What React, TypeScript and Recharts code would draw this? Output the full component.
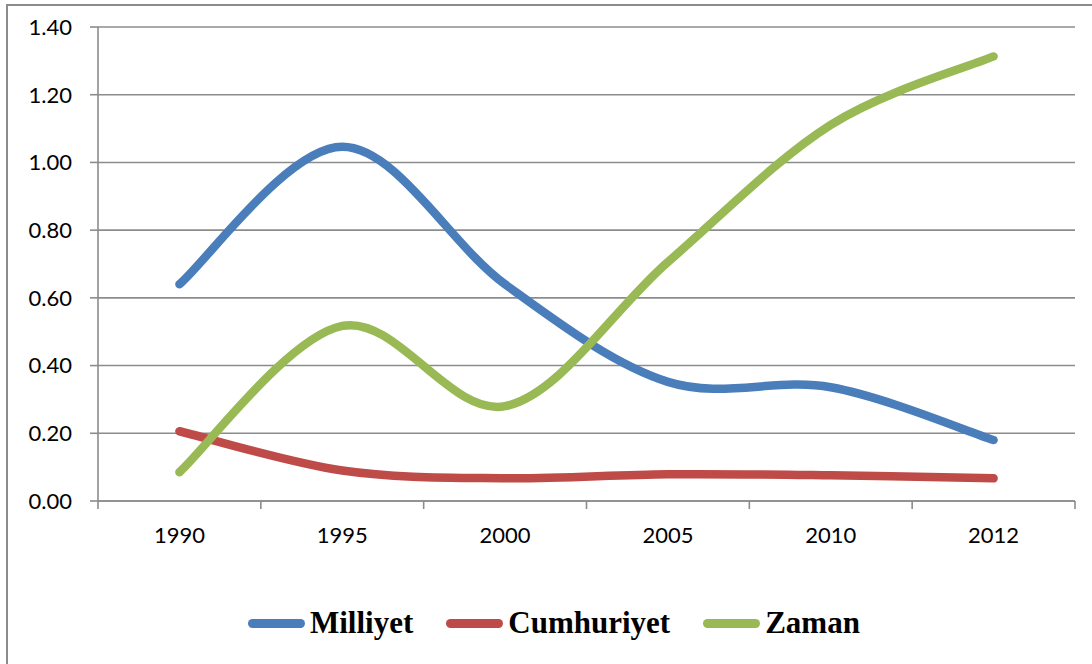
import { CartesianGrid, Line, LineChart, XAxis, YAxis } from "recharts";

const YEARS = ["1990", "1995", "2000", "2005", "2010", "2012"];
const MILLIYET = [0.64, 1.046, 0.64, 0.352, 0.336, 0.18];
const CUMHURIYET = [0.206, 0.09, 0.067, 0.079, 0.076, 0.067];
const ZAMAN = [0.085, 0.517, 0.28, 0.706, 1.111, 1.313];
const Y_TICKS = [0, 0.2, 0.4, 0.6, 0.8, 1.0, 1.2, 1.4];

const SERIES = [
  { key: "milliyet", name: "Milliyet", color: "#4a7ebb" },
  { key: "cumhuriyet", name: "Cumhuriyet", color: "#be4b48" },
  { key: "zaman", name: "Zaman", color: "#98b954" },
];

const data = YEARS.map((year, i) => ({
  year,
  milliyet: MILLIYET[i],
  cumhuriyet: CUMHURIYET[i],
  zaman: ZAMAN[i],
}));

const W = 1092;
const H = 664;
const TOP = 27;
const LEFT = 98;
const RIGHT = 17;
const PLOT_H = 474;
const AXIS_Y = TOP + PLOT_H;
const BAND = (W - LEFT - RIGHT) / YEARS.length;
const GRAY = "#8c8c8c";
const TICK_FONT = "Lato, 'Open Sans', sans-serif";

/** Excel-style smoothed line (Catmull-Rom as cubic beziers). */
function excelSmooth(context: any) {
  let pts: number[][] = [];
  return {
    areaStart() {},
    areaEnd() {},
    lineStart() {
      pts = [];
    },
    point(x: number, y: number) {
      pts.push([+x, +y]);
    },
    lineEnd() {
      const n = pts.length;
      if (!n) return;
      context.moveTo(pts[0][0], pts[0][1]);
      for (let i = 0; i < n - 1; i++) {
        const p0 = pts[Math.max(i - 1, 0)];
        const p1 = pts[i];
        const p2 = pts[i + 1];
        const p3 = pts[Math.min(i + 2, n - 1)];
        context.bezierCurveTo(
          p1[0] + (p2[0] - p0[0]) / 6,
          p1[1] + (p2[1] - p0[1]) / 6,
          p2[0] - (p3[0] - p1[0]) / 6,
          p2[1] - (p3[1] - p1[1]) / 6,
          p2[0],
          p2[1]
        );
      }
    },
  };
}

function YearTick(props: any) {
  const { x, payload, index } = props;
  const left = x - BAND / 2;
  return (
    <g>
      <line x1={left} x2={left} y1={AXIS_Y} y2={AXIS_Y + 8} stroke={GRAY} strokeWidth={1.6} />
      {index === YEARS.length - 1 ? (
        <line x1={x + BAND / 2} x2={x + BAND / 2} y1={AXIS_Y} y2={AXIS_Y + 8} stroke={GRAY} strokeWidth={1.6} />
      ) : null}
      <text x={x} y={AXIS_Y + 42} textAnchor="middle" fill="#000" fontSize={22} fontFamily={TICK_FONT}>
        {payload.value}
      </text>
    </g>
  );
}

export default function App() {
  return (
    <div
      style={{
        position: "absolute",
        left: 0,
        top: 0,
        width: W,
        height: H,
        overflow: "hidden",
        background: "#fff",
      }}
    >
      <div
        style={{
          position: "absolute",
          left: 6,
          top: 4,
          width: W,
          height: H,
          border: `2px solid ${GRAY}`,
        }}
      />
      <LineChart width={W} height={H} data={data} margin={{ top: TOP, right: RIGHT, left: 0, bottom: 0 }}>
        <CartesianGrid horizontal vertical={false} stroke={GRAY} strokeWidth={1.6} />
        <XAxis
          dataKey="year"
          height={H - TOP - PLOT_H}
          padding={{ left: BAND / 2, right: BAND / 2 }}
          axisLine={{ stroke: GRAY, strokeWidth: 1.6 }}
          tickLine={false}
          tickSize={0}
          tickMargin={0}
          tick={<YearTick />}
          interval={0}
        />
        <YAxis
          width={LEFT}
          domain={[0, 1.4]}
          ticks={Y_TICKS}
          interval={0}
          tickFormatter={(v: number) => v.toFixed(2)}
          axisLine={{ stroke: GRAY, strokeWidth: 1.6 }}
          tickLine={{ stroke: GRAY, strokeWidth: 1.6 }}
          tickSize={8}
          tickMargin={18}
          tick={{ fill: "#000", fontSize: 22, fontFamily: TICK_FONT }}
        />
        {SERIES.map((s) => (
          <Line
            key={s.key}
            dataKey={s.key}
            name={s.name}
            type={excelSmooth as any}
            stroke={s.color}
            strokeWidth={8.5}
            strokeLinecap="round"
            strokeLinejoin="round"
            dot={false}
            activeDot={false}
            isAnimationActive={false}
          />
        ))}
      </LineChart>
      <div
        style={{
          position: "absolute",
          left: 248,
          top: 606,
          display: "flex",
          alignItems: "center",
          fontFamily: "'Liberation Serif', 'Times New Roman', serif",
          fontWeight: "bold",
          fontSize: 31,
          lineHeight: "34px",
          color: "#000",
        }}
      >
        {SERIES.map((s, i) => (
          <div key={s.key} style={{ display: "flex", alignItems: "center", marginLeft: i === 0 ? 0 : 33 }}>
            <div style={{ width: 57, height: 9, borderRadius: 5, background: s.color, marginRight: 5 }} />
            <span>{s.name}</span>
          </div>
        ))}
      </div>
    </div>
  );
}
